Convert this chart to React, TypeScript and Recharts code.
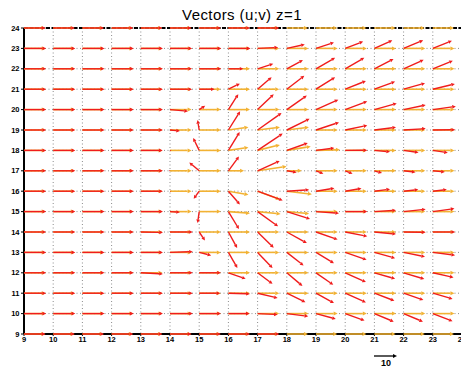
import { ScatterChart, Scatter, XAxis, YAxis, CartesianGrid, ReferenceLine } from 'recharts';

// grid of the vector field
const xValues = [9, 10, 11, 12, 13, 14, 15, 16, 17, 18, 19, 20, 21, 22, 23];
const rowValues = [23, 22, 21, 20, 19, 18, 17, 16, 15, 14, 13, 12, 11, 10];
const xTicks = [9, 10, 11, 12, 13, 14, 15, 16, 17, 18, 19, 20, 21, 22, 23, 24];
const yTicks = [9, 10, 11, 12, 13, 14, 15, 16, 17, 18, 19, 20, 21, 22, 23, 24];

// red vectors (u, v) per row, x = 9..23
const red23 = [[9.6, 0], [9.6, 0], [9.6, 0], [9.6, 0], [9.6, 0], [9.6, 0], [9.6, 0], [9.6, 0], [8.9, 0.4], [7.8, 1.7], [7.8, 2.6], [7.8, 3.0], [7.8, 3.5], [8.5, 3.5], [8.3, 3.3]];
const red22 = [[9.6, 0], [9.6, 0], [9.6, 0], [9.6, 0], [9.6, 0], [9.6, 0], [9.6, 0], [6.5, 0], [6.8, 2.2], [7.0, 3.8], [8.3, 4.8], [8.3, 4.8], [8.3, 4.3], [8.7, 3.9], [8.7, 3.5]];
const red21 = [[9.6, 0], [9.6, 0], [9.6, 0], [9.6, 0], [9.6, 0], [9.6, 0], [6.7, 0], [5.0, 2.4], [6.1, 5.2], [7.6, 5.8], [8.3, 5.2], [9.0, 3.6], [9.0, 3.3], [9.3, 2.6], [9.6, 2.3]];
const red20 = [[9.6, 0], [9.6, 0], [9.6, 0], [9.6, 0], [9.6, 0], [7.8, -0.7], [2.6, 1.7], [4.3, 6.7], [7.0, 6.7], [8.7, 6.1], [9.7, 4.3], [9.6, 3.6], [9.7, 2.7], [9.6, 2.0], [10.0, 1.4]];
const red19 = [[9.6, 0], [9.6, 0], [9.6, 0], [9.6, 0], [9.6, 0], [4.3, -0.4], [-0.7, 4.3], [5.1, 8.1], [10.4, 7.4], [9.9, 4.9], [10.0, 3.3], [9.6, 2.0], [9.4, 1.2], [9.6, 0.6], [9.7, 0.1]];
const red18 = [[9.6, 0], [9.6, 0], [9.6, 0], [9.6, 0], [9.5, 0], [0.6, -0.2], [-2.6, 5.4], [4.9, 8.0], [10.9, 7.3], [9.1, 3.2], [8.0, 1.0], [9.6, 0.1], [6.8, -0.6], [6.5, -0.9], [6.5, -1.0]];
const red17 = [[9.6, 0], [9.6, 0], [9.6, 0], [9.6, 0], [9.6, 0], [-0.4, 0.4], [-4.3, 3.6], [4.6, 6.2], [9.6, 4.3], [4.3, -0.7], [3.2, -1.3], [3.2, -1.3], [3.3, -1.0], [5.2, -0.6], [5.2, -0.5]];
const red16 = [[9.6, 0], [9.6, 0], [9.6, 0], [9.6, 0], [9.6, 0], [0.5, 0], [-2.4, -3.3], [5.0, -5.8], [10.9, -4.0], [9.7, 0.6], [8.0, 1.3], [7.1, 1.2], [6.8, 0.9], [6.4, 0.7], [6.1, 0.7]];
const red15 = [[9.6, 0], [9.6, 0], [9.6, 0], [9.6, 0], [9.6, 0], [4.3, -0.3], [-0.7, -5.0], [4.6, -7.6], [8.9, -6.4], [10.1, -3.2], [10.0, -0.7], [9.6, 0], [9.4, 0.6], [9.6, 1.0], [9.4, 1.3]];
const red14 = [[9.6, 0], [9.6, 0], [9.6, 0], [9.6, 0], [9.6, -0.2], [9.9, 0], [2.5, -3.7], [3.8, -7.0], [7.0, -6.8], [8.7, -4.8], [9.4, -3.3], [9.6, -1.9], [9.4, -0.9], [9.6, -0.1], [9.7, 0]];
const red13 = [[9.6, 0], [9.6, 0], [9.6, 0], [9.6, 0], [9.6, 0], [9.9, 0.3], [5.2, -1.3], [3.9, -6.8], [6.5, -6.8], [7.3, -5.7], [7.8, -4.7], [9.3, -3.2], [9.0, -2.5], [9.3, -1.9], [9.7, -1.2]];
const red12 = [[9.6, 0], [9.6, 0], [9.6, 0], [9.6, 0], [9.6, -0.5], [9.9, 0], [9.4, 0], [7.5, -2.6], [6.5, -4.8], [6.8, -5.7], [7.5, -5.2], [9.0, -4.0], [9.0, -2.6], [9.0, -2.7], [9.0, -2.0]];
const red11 = [[9.6, 0], [9.6, 0], [9.6, 0], [9.6, 0], [9.6, 0], [9.9, 0], [9.1, 0], [9.3, -0.3], [8.7, -2.1], [8.1, -3.9], [7.8, -4.3], [9.0, -4.0], [8.7, -3.3], [8.6, -3.0], [8.6, -2.5]];
const red10 = [[9.6, 0], [9.6, 0], [9.6, 0], [9.6, 0], [9.6, 0], [9.9, 0], [9.4, 0], [9.2, 0], [8.7, -0.4], [9.3, -1.2], [8.6, -2.3], [8.4, -3.0], [8.4, -3.5], [8.4, -3.5], [8.6, -3.3]];
const redRows = [red23, red22, red21, red20, red19, red18, red17, red16, red15, red14, red13, red12, red11, red10];

// orange vectors (u, v) per row, x = 9..23
const orange23 = [[9.4, 0], [9.4, 0], [9.4, 0], [9.4, 0], [9.4, 0], [9.4, 0], [9.4, 0], [9.4, 0], [9.4, 0], [9.4, 0], [9.4, 0], [9.4, 0], [9.4, 0], [9.4, 0], [9.4, 0]];
const orange22 = [[9.4, 0], [9.4, 0], [9.4, 0], [9.4, 0], [9.4, 0], [9.4, 0], [9.4, 0], [9.4, 0], [9.4, 0], [9.4, 0], [9.4, 0], [9.4, 0], [9.4, 0], [9.4, 0], [9.4, 0]];
const orange21 = [[9.4, 0], [9.4, 0], [9.4, 0], [9.4, 0], [9.4, 0], [9.4, 0], [9.4, 0], [9.4, 0], [9.4, 0], [9.4, 0], [9.4, 0], [9.4, 0], [9.4, 0], [9.4, 0], [9.4, 0]];
const orange20 = [[9.4, 0], [9.4, 0], [9.4, 0], [9.4, 0], [9.4, 0], [9.4, 0], [9.4, 0], [9.4, 0], [9.5, 0], [9.4, 0], [9.4, 0], [9.4, 0], [9.4, 0], [9.4, 0], [9.4, 0]];
const orange19 = [[9.4, 0], [9.4, 0], [9.4, 0], [9.4, 0], [9.4, 0], [9.4, 0], [9.4, 0], [8.7, 1.2], [9.7, 1.2], [9.6, 1.2], [9.4, 0], [9.4, 0], [9.4, 0], [9.4, 0], [9.4, 0]];
const orange18 = [[9.4, 0], [9.4, 0], [9.4, 0], [9.4, 0], [9.4, 0], [9.4, 0], [9.4, 0], [8.7, 1.3], [9.7, 2.4], [10.4, 1.7], [10.4, 0.3], [9.4, 0], [9.4, 0], [9.4, 0], [9.4, 0]];
const orange17 = [[9.4, 0], [9.4, 0], [9.4, 0], [9.4, 0], [9.4, 0], [9.4, 0], [9.4, 0], [6.8, 0], [12.6, 1.9], [6.5, 0], [9.4, 0], [9.4, 0], [9.4, 0], [9.4, 0], [9.4, 0]];
const orange16 = [[9.4, 0], [9.4, 0], [9.4, 0], [9.4, 0], [9.4, 0], [9.4, 0], [9.4, 0], [8.7, -1.5], [9.7, -3.6], [10.9, -1.3], [9.4, 0], [9.4, 0], [9.4, 0], [9.4, 0], [9.4, 0]];
const orange15 = [[9.4, 0], [9.4, 0], [9.4, 0], [9.4, 0], [9.4, 0], [9.4, 0], [9.4, 0], [9.4, -0.7], [10.0, -1.0], [9.7, -0.9], [9.4, 0], [9.4, 0], [9.4, 0], [9.4, 0], [9.4, 0]];
const orange14 = [[9.4, 0], [9.4, 0], [9.4, 0], [9.4, 0], [9.4, 0], [9.4, 0], [9.4, 0], [9.4, 0], [9.4, 0], [9.4, 0], [9.4, 0], [9.4, 0], [9.4, 0], [9.4, 0], [9.4, 0]];
const orange13 = [[9.4, 0], [9.4, 0], [9.4, 0], [9.4, 0], [9.4, 0], [9.4, 0], [9.4, 0], [9.4, 0], [9.4, 0], [9.4, 0], [9.4, 0], [9.4, 0], [9.4, 0], [9.4, 0], [9.4, 0]];
const orange12 = [[9.4, 0], [9.4, 0], [9.4, 0], [9.4, 0], [9.4, 0], [9.4, 0], [9.4, 0], [9.4, 0], [9.4, 0], [9.4, 0], [9.4, 0], [9.4, 0], [9.4, 0], [9.4, 0], [9.4, 0]];
const orange11 = [[9.4, 0], [9.4, 0], [9.4, 0], [9.4, 0], [9.4, 0], [9.4, 0], [9.4, 0], [9.4, 0], [9.4, 0], [9.4, 0], [9.4, 0], [9.4, 0], [9.4, 0], [9.4, 0], [9.4, 0]];
const orange10 = [[9.4, 0], [9.4, 0], [9.4, 0], [9.4, 0], [9.4, 0], [9.4, 0], [9.4, 0], [9.4, 0], [9.4, 0], [9.4, 0], [9.4, 0], [9.4, 0], [9.4, 0], [9.4, 0], [9.4, 0]];
const orangeRows = [orange23, orange22, orange21, orange20, orange19, orange18, orange17, orange16, orange15, orange14, orange13, orange12, orange11, orange10];

// vectors lying on the top / bottom frame (only heads show)
const edgeRedX = [9, 10, 11, 12, 13, 14, 15, 16, 17];
const edgeRows = [24, 9];

const VEC_PX = 2.3; // pixels per vector unit (reference arrow: 10)
const REF_LEN = 10;

type Pt = { x: number; y: number; u: number; v: number };

const buildData = (rows: number[][][]): Pt[] => {
  const out: Pt[] = [];
  rows.forEach((row, i) => {
    row.forEach(([u, v], j) => out.push({ x: xValues[j], y: rowValues[i], u, v }));
  });
  return out;
};

const redData = buildData(redRows);
const orangeData = buildData(orangeRows);
edgeRows.forEach((y) => {
  edgeRedX.forEach((x) => redData.push({ x, y, u: 9.4, v: 0 }));
  xValues.forEach((x) => orangeData.push({ x, y, u: 9.2, v: 0 }));
});

function Arrow({ cx, cy, u, v, color, width, head }: any) {
  const dx = u * VEC_PX;
  const dy = -v * VEC_PX;
  const len = Math.hypot(dx, dy);
  if (!isFinite(cx) || len < 0.05) return <g />;
  const ex = cx + dx;
  const ey = cy + dy;
  const ux = dx / len;
  const uy = dy / len;
  const h = Math.min(head, len);
  const bx = ex - ux * h;
  const by = ey - uy * h;
  const px = -uy * h * 0.5;
  const py = ux * h * 0.5;
  return (
    <g>
      <line x1={cx} y1={cy} x2={bx} y2={by} stroke={color} strokeWidth={width} />
      <polygon points={`${ex},${ey} ${bx + px},${by + py} ${bx - px},${by - py}`} fill={color} />
    </g>
  );
}

const tickStyle = { fill: '#000', fontSize: 7.5, fontWeight: 700, fontFamily: 'Liberation Sans, Arial, sans-serif' };

export default function App() {
  return (
    <div style={{ position: 'absolute', left: 0, top: 0, width: 461, height: 370, overflow: 'hidden', background: '#fff' }}>
      <ScatterChart width={461} height={370} margin={{ top: 28, right: -1, bottom: 16, left: 0 }}>
        <CartesianGrid stroke="#8c8c8c" strokeDasharray="1 2.5" />
        <XAxis
          type="number"
          dataKey="x"
          domain={[9, 24]}
          ticks={xTicks}
          interval={0}
          height={20}
          tickSize={2}
          tickMargin={1}
          tick={tickStyle}
          axisLine={{ stroke: '#000', strokeWidth: 2 }}
          tickLine={{ stroke: '#000' }}
        />
        <YAxis
          type="number"
          dataKey="y"
          domain={[9, 24]}
          ticks={yTicks}
          interval={0}
          width={24}
          tickSize={3}
          tickMargin={1.5}
          tick={tickStyle}
          axisLine={{ stroke: '#000', strokeWidth: 2 }}
          tickLine={{ stroke: '#000' }}
        />
        <Scatter
          data={orangeData}
          isAnimationActive={false}
          shape={(p: any) => <Arrow cx={p.cx} cy={p.cy} u={p.payload.u} v={p.payload.v} color="#f2b233" width={1.6} head={4} />}
        />
        <Scatter
          data={redData}
          isAnimationActive={false}
          shape={(p: any) => <Arrow cx={p.cx} cy={p.cy} u={p.payload.u} v={p.payload.v} color="#f01c1c" width={1.4} head={3.6} />}
        />
        <ReferenceLine y={24} stroke="#000" strokeWidth={2} strokeDasharray="4 1.5" />
      </ScatterChart>
      <svg width={461} height={370} style={{ position: 'absolute', left: 0, top: 0, pointerEvents: 'none' }}>
        <text x={242} y={20} textAnchor="middle" fontSize={15} letterSpacing={0.4} fontFamily="Liberation Sans, Arial, sans-serif" fill="#000">
          Vectors (u;v) z=1
        </text>
        <Arrow cx={374} cy={356} u={REF_LEN} v={0} color="#000" width={1.3} head={4} />
        <text x={386} y={366} textAnchor="middle" fontSize={9} fontWeight={700} fontFamily="Liberation Sans, Arial, sans-serif" fill="#000">
          {REF_LEN}
        </text>
      </svg>
    </div>
  );
}
